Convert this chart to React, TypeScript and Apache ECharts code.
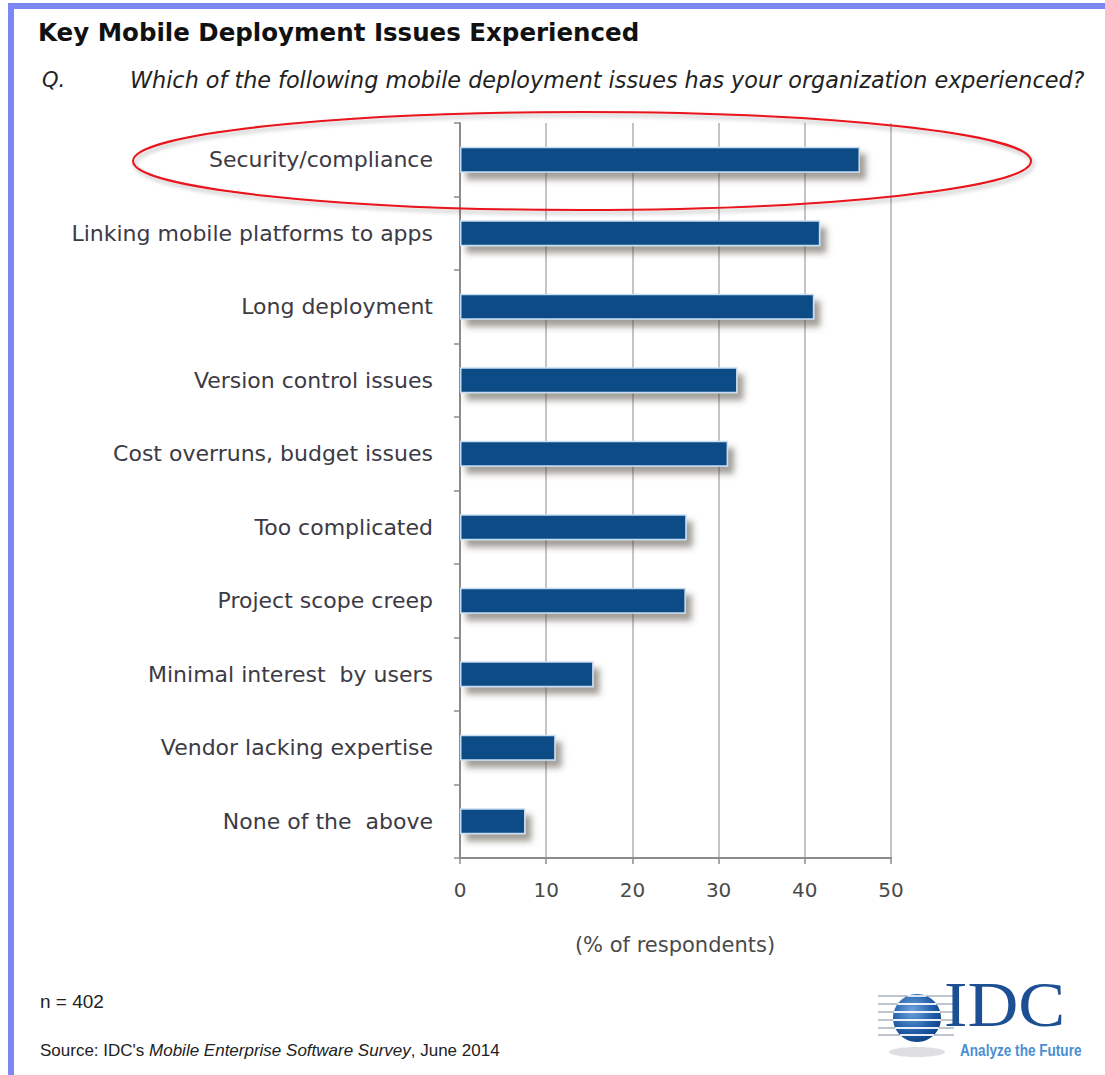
import React, { useEffect, useRef } from "react";
import * as echarts from "echarts";

const categories = [
  "Security/compliance",
  "Linking mobile platforms to apps",
  "Long deployment",
  "Version control issues",
  "Cost overruns, budget issues",
  "Too complicated",
  "Project scope creep",
  "Minimal interest  by users",
  "Vendor lacking expertise",
  "None of the  above",
];
const values = [46.4, 41.8, 41.1, 32.2, 31.1, 26.3, 26.2, 15.5, 11.1, 7.6];
const xTicks = [0, 10, 20, 30, 40, 50];

const titleText = "Key Mobile Deployment Issues Experienced";
const questionText = "Which of the following mobile deployment issues has your organization experienced?";
const axisTitle = "(% of respondents)";
const sampleText = "n = 402";

const globeLineYs = [996, 1004, 1012, 1020, 1028, 1035];

export default function App() {
  const ref = useRef<HTMLDivElement>(null);
  useEffect(() => {
    if (!ref.current) return;
    const chart = echarts.init(ref.current, undefined, { renderer: "svg" });
    const gcx = 917, gcy = 1018, gr = 24;
    const globeGray = globeLineYs.map((y) => ({
      type: "line",
      shape: { x1: 878, y1: y, x2: 954, y2: y },
      style: { stroke: "#7e8ba0", lineWidth: 1.2 },
      z: 10,
    }));
    const globeWhite = globeLineYs
      .filter((y) => Math.abs(y - gcy) < gr - 1)
      .map((y) => {
        const h = Math.sqrt(gr * gr - (y - gcy) * (y - gcy));
        return {
          type: "line",
          shape: { x1: gcx - h, y1: y, x2: gcx + h, y2: y },
          style: { stroke: "rgba(255,255,255,0.9)", lineWidth: 1.8 },
          z: 12,
        };
      });
    chart.setOption({
      animation: false,
      backgroundColor: "#ffffff",
      grid: { left: 460, right: 214, top: 123, bottom: 217, containLabel: false },
      xAxis: {
        type: "value",
        min: 0,
        max: 50,
        interval: 10,
        axisLine: { show: true, lineStyle: { color: "#8c8c8c", width: 2 } },
        axisTick: { show: true, length: 6, lineStyle: { color: "#8c8c8c", width: 1.5 } },
        splitLine: { show: true, lineStyle: { color: "#c4c4c4", width: 2 } },
        axisLabel: {
          margin: 22,
          color: "#4a4a4a",
          fontFamily: "DejaVu Sans",
          fontSize: 20,
          formatter: (v: number) => (xTicks.includes(v) ? String(v) : ""),
        },
      },
      yAxis: {
        type: "category",
        inverse: true,
        data: categories,
        axisLine: { show: true, lineStyle: { color: "#8c8c8c", width: 2 } },
        axisTick: { show: true, length: 6, lineStyle: { color: "#8c8c8c", width: 1.5 } },
        axisLabel: {
          margin: 27,
          color: "#3c3a44",
          fontFamily: "DejaVu Sans",
          fontSize: 22,
        },
      },
      series: [
        {
          type: "bar",
          data: values,
          barWidth: 26,
          itemStyle: {
            color: "#0b4b87",
            borderColor: "#c6ddf2",
            borderWidth: 1.5,
            shadowColor: "rgba(70,60,50,0.5)",
            shadowBlur: 6,
            shadowOffsetX: 6,
            shadowOffsetY: 7,
          },
        },
      ],
      graphic: [
        { type: "rect", shape: { x: 8, y: 3, width: 1097, height: 6 }, style: { fill: "#7c87f4" }, z: 20 },
        { type: "rect", shape: { x: 8, y: 3, width: 6, height: 1072 }, style: { fill: "#7c87f4" }, z: 20 },
        {
          type: "text",
          x: 38,
          y: 32,
          style: {
            text: titleText,
            fill: "#111111",
            font: "bold 24.5px 'DejaVu Sans'",
            textVerticalAlign: "middle",
          },
        },
        {
          type: "text",
          x: 42,
          y: 80,
          style: { text: "Q.", fill: "#222222", font: "italic 21px 'DejaVu Sans'", textVerticalAlign: "middle" },
        },
        {
          type: "text",
          x: 130,
          y: 80,
          style: { text: questionText, fill: "#222222", font: "italic 22.3px 'DejaVu Sans'", textVerticalAlign: "middle" },
        },
        {
          type: "text",
          x: 675,
          y: 945,
          style: {
            text: axisTitle,
            fill: "#4a4a4a",
            font: "21px 'DejaVu Sans'",
            textAlign: "center",
            textVerticalAlign: "middle",
          },
        },
        {
          type: "ellipse",
          shape: { cx: 582, cy: 161, rx: 449, ry: 49 },
          style: {
            fill: "none",
            stroke: "#e8141c",
            lineWidth: 2,
            shadowColor: "rgba(0,0,0,0.3)",
            shadowBlur: 4,
            shadowOffsetX: 2,
            shadowOffsetY: 3,
          },
          z: 30,
        },
        {
          type: "text",
          x: 40,
          y: 1001,
          style: { text: sampleText, fill: "#222222", font: "19px 'Liberation Sans'", textVerticalAlign: "middle" },
        },
        {
          type: "text",
          x: 40,
          y: 1050,
          style: {
            text: "Source: IDC's {i|Mobile Enterprise Software Survey}, June 2014",
            fill: "#222222",
            font: "17px 'Liberation Sans'",
            textVerticalAlign: "middle",
            rich: {
              i: { fontStyle: "italic", fontFamily: "Liberation Sans", fontSize: 17, fill: "#222222" },
            },
          },
        },
        {
          type: "ellipse",
          shape: { cx: 917, cy: 1052, rx: 28, ry: 5 },
          style: { fill: "rgba(150,150,160,0.3)" },
          z: 9,
        },
        ...globeGray,
        {
          type: "circle",
          shape: { cx: gcx, cy: gcy, r: gr },
          style: {
            fill: new echarts.graphic.RadialGradient(0.4, 0.35, 0.75, [
              { offset: 0, color: "#6fa3dc" },
              { offset: 0.6, color: "#1f5ca6" },
              { offset: 1, color: "#0d3a78" },
            ]),
          },
          z: 11,
        },
        ...globeWhite,
        {
          type: "text",
          x: 944,
          y: 1037,
          scaleX: 1.1,
          style: {
            text: "IDC",
            fill: "#1c4f93",
            font: "64px 'Liberation Serif'",
            textVerticalAlign: "bottom",
          },
          z: 12,
        },
        {
          type: "text",
          x: 960,
          y: 1050,
          scaleX: 0.8,
          style: {
            text: "Analyze the Future",
            fill: "#4a8fd2",
            font: "bold 17px 'Liberation Sans'",
            textAlign: "left",
            textVerticalAlign: "middle",
          },
          z: 12,
        },
      ],
    });
    return () => chart.dispose();
  }, []);
  return <div ref={ref} style={{ position: "fixed", left: 0, top: 0, width: 1105, height: 1075 }} />;
}
